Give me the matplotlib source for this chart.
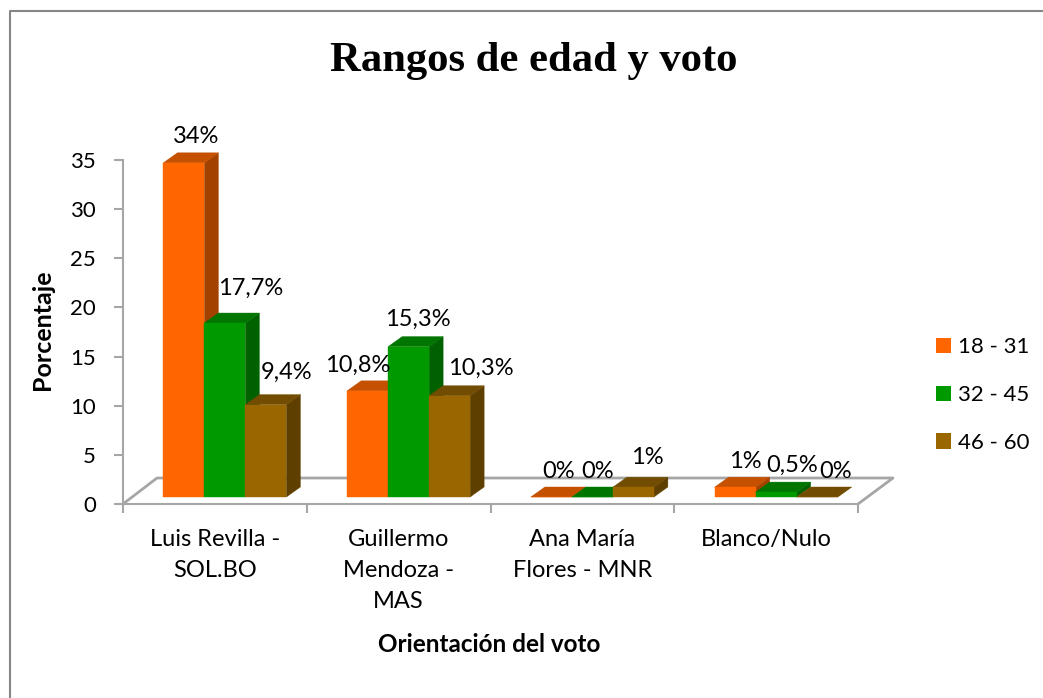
import matplotlib
matplotlib.use('Agg')
import matplotlib.pyplot as plt
import matplotlib.transforms as mtransforms
from matplotlib.lines import Line2D
from matplotlib.patches import Patch, Polygon

plt.rcParams['font.family'] = ['Lato', 'DejaVu Sans']

# Data
categories = ['Luis Revilla -\nSOL.BO', 'Guillermo\nMendoza -\nMAS', 'Ana María\nFlores - MNR', 'Blanco/Nulo']
series_names = ['18 - 31', '32 - 45', '46 - 60']
age_18_31 = [34, 10.8, 0, 1]
age_32_45 = [17.7, 15.3, 0, 0.5]
age_46_60 = [9.4, 10.3, 1, 0]
labels_18_31 = ['34%', '10,8%', '0%', '1%']
labels_32_45 = ['17,7%', '15,3%', '0%', '0,5%']
labels_46_60 = ['9,4%', '10,3%', '1%', '0%']

series = [age_18_31, age_32_45, age_46_60]
series_labels = [labels_18_31, labels_32_45, labels_46_60]

# Colours: front, top, side
front = ['#FF6600', '#009900', '#996600']
top = ['#C45000', '#007500', '#724C00']
side = ['#A34100', '#006100', '#5F3F00']
grey = '#A6A6A6'

# Label placement relative to the bar front centre (pixels)
label_dx = [[12, -10, 7, 10], [26, 9, 5, 16], [21, 31, 14, 18]]
label_dy = [[26, 26, 25, 26], [35, 27, 25, 27], [32, 27, 30, 26]]

W, H = 1043, 698
fig = plt.figure(figsize=(W / 100, H / 100), dpi=100)
ax = fig.add_axes([123 / W, (H - 504) / H, 735 / W, 344 / H])
ax.set_xlim(0, 4)
ax.set_ylim(0, 35)
ax.patch.set_visible(False)

# pixel sizes in data units
px_x = 4 / 735
px_y = 35 / 344
bar_w = 41 * px_x
depth_x = 14 * px_x
depth_y = 10 * px_y

# bars stand a little behind the front of the floor
shift = mtransforms.offset_copy(ax.transData, fig=fig, x=10, y=7, units='dots')

# floor
ax.plot([0, 34 * px_x, 770 * px_x, 735 * px_x], [0, 26 * px_y, 26 * px_y, 0],
        color=grey, lw=2, clip_on=False, zorder=1)

for i in range(len(categories)):
    x0 = i + 0.5
    for j, values in enumerate(series):
        v = values[i]
        left = x0 + (j - 1.5) * bar_w
        right = left + bar_w
        z = 3 + i * 3 + j * 0.1
        ax.bar(left, v, width=bar_w, align='edge', color=front[j], edgecolor=front[j], linewidth=0.3,
               transform=shift, zorder=z + 0.02, clip_on=False)
        ax.add_patch(Polygon([(left, v), (right, v), (right + depth_x, v + depth_y), (left + depth_x, v + depth_y)],
                             closed=True, facecolor=top[j], edgecolor=top[j], linewidth=0.3,
                             transform=shift, zorder=z + 0.01, clip_on=False))
        ax.add_patch(Polygon([(right, 0), (right + depth_x, depth_y), (right + depth_x, v + depth_y), (right, v)],
                             closed=True, facecolor=side[j], edgecolor=side[j], linewidth=0.3,
                             transform=shift, zorder=z, clip_on=False))
        ax.annotate(series_labels[j][i], xy=(left + bar_w / 2, v), xycoords=shift,
                    xytext=(label_dx[j][i] * 0.72, label_dy[j][i] * 0.72), textcoords='offset points',
                    ha='center', va='center', fontsize=17, color='black', zorder=30,
                    annotation_clip=False)

for s in ['top', 'right']:
    ax.spines[s].set_visible(False)
for s in ['left', 'bottom']:
    ax.spines[s].set_color(grey)
    ax.spines[s].set_linewidth(1.5)

ax.set_yticks(range(0, 36, 5))
ax.set_xticks(range(5))
ax.set_xticklabels([])
ax.set_xticks([i + 0.5 for i in range(4)], minor=True)
ax.set_xticklabels(categories, minor=True, fontsize=17, linespacing=1.6, va='top')
ax.tick_params(axis='x', which='major', length=6.5, width=1.5, color=grey)
ax.tick_params(axis='x', which='minor', length=0, pad=18)
ax.tick_params(axis='y', length=6.5, width=1.5, color=grey, labelsize=16, pad=13)

ax.set_ylabel('Porcentaje', fontsize=18, fontweight='bold')
ax.yaxis.set_label_coords(-69 / 735, 0.5 + 2 / 344)
ax.set_xlabel('Orientación del voto', fontsize=17.5, fontweight='bold')
ax.xaxis.set_label_coords(366 / 735, -140 / 344)
ax.xaxis.label.set_va('center')

fig.text(534 / W, 1 - 61 / H, 'Rangos de edad y voto', ha='center', va='center',
         family='Liberation Serif', fontweight='bold', fontsize=30.7)

handles = [Patch(facecolor=c, linewidth=0) for c in front]
fig.legend(handles, series_names, loc='center left', bbox_to_anchor=(936 / W, 1 - 395 / H),
           frameon=False, fontsize=16, handlelength=0.68, handleheight=0.68,
           handletextpad=0.32, labelspacing=1.25, borderpad=0, borderaxespad=0)

# chart frame
fig.add_artist(Line2D([9.5 / W, 9.5 / W, 1], [0, 1 - 10.5 / H, 1 - 10.5 / H], color='#868686', lw=1.5))

fig.savefig('out.png', dpi=100)
